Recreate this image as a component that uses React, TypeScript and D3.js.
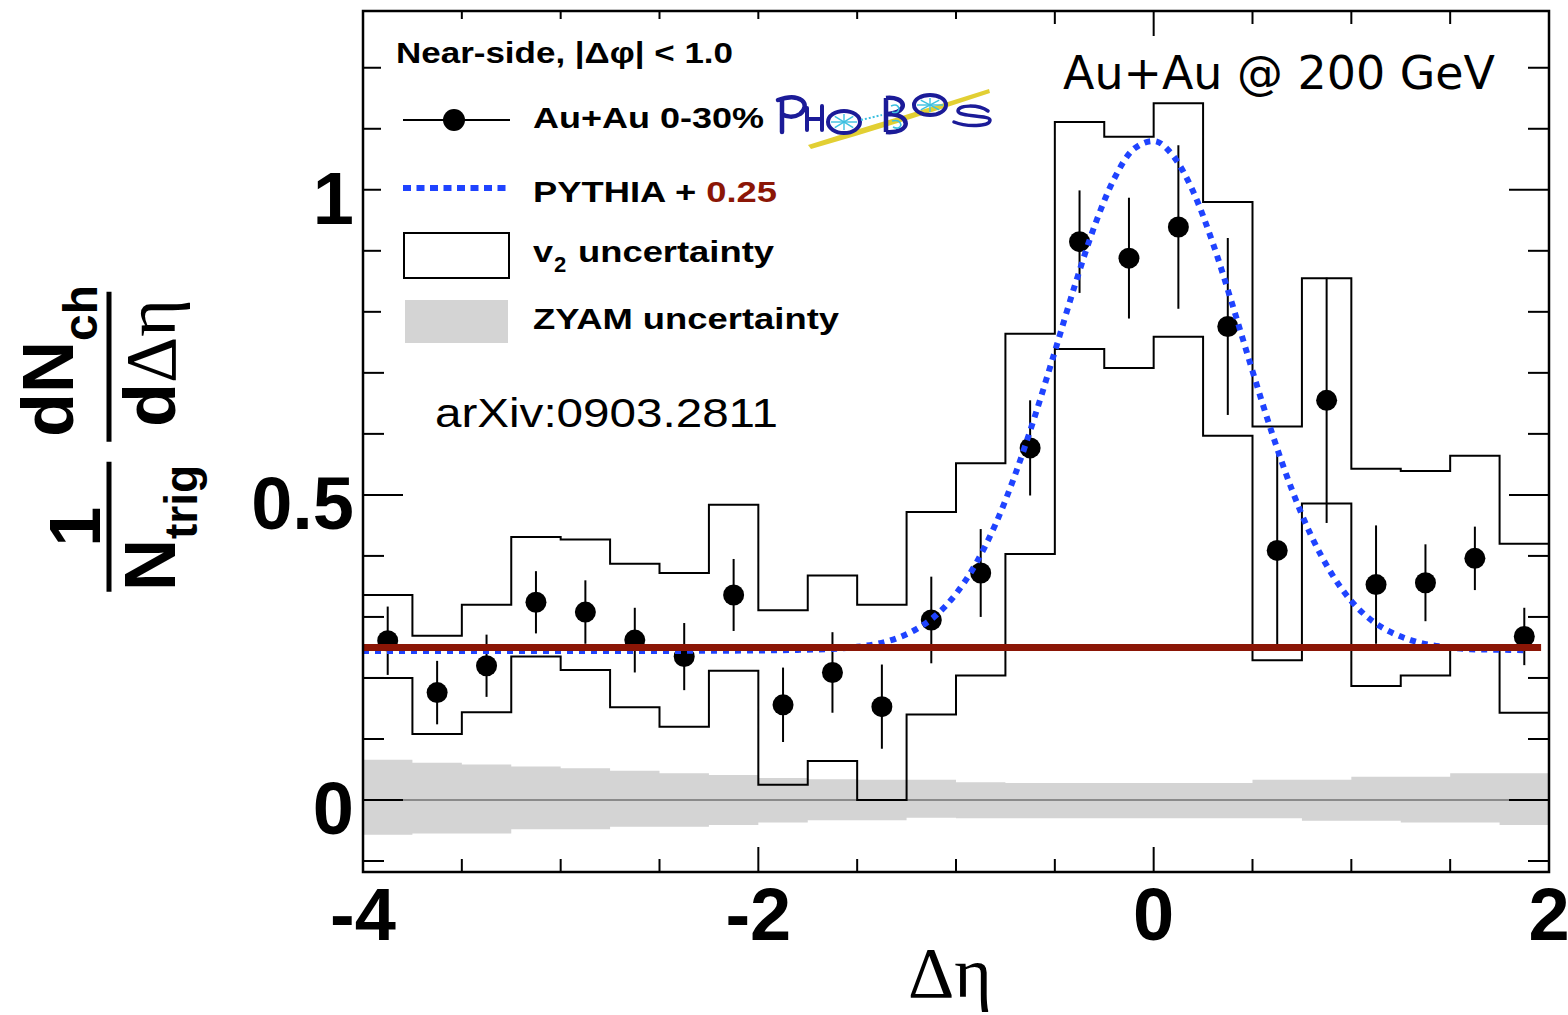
import React from 'react';
import * as d3 from 'd3';

const W = 1568;
const H = 1015;

// Δη bin centres (bin width 0.25)
const etaBinCenters = [
  -3.875, -3.625, -3.375, -3.125, -2.875, -2.625, -2.375, -2.125,
  -1.875, -1.625, -1.375, -1.125, -0.875, -0.625, -0.375, -0.125,
  0.125, 0.375, 0.625, 0.875, 1.125, 1.375, 1.625, 1.875,
];
const binHalfWidth = 0.125;

// Au+Au 0-30% per-trigger yield and statistical errors
const yieldAuAu = [
  0.261, 0.176, 0.220, 0.324, 0.308, 0.262, 0.235, 0.336,
  0.156, 0.209, 0.153, 0.295, 0.372, 0.577, 0.915, 0.888,
  0.939, 0.776, 0.409, 0.655, 0.353, 0.356, 0.396, 0.268,
];
const yieldStatErr = [
  0.056, 0.052, 0.051, 0.051, 0.052, 0.053, 0.055, 0.059,
  0.061, 0.066, 0.069, 0.071, 0.072, 0.078, 0.084, 0.099,
  0.134, 0.145, 0.160, 0.201, 0.097, 0.063, 0.052, 0.047,
];

// v2 systematic band (upper / lower edges)
const v2BandHigh = [
  0.336, 0.269, 0.320, 0.431, 0.427, 0.387, 0.372, 0.484,
  0.311, 0.368, 0.320, 0.472, 0.552, 0.764, 1.111, 1.087,
  1.142, 0.980, 0.612, 0.855, 0.543, 0.539, 0.564, 0.420,
];
const v2BandLow = [
  0.200, 0.108, 0.144, 0.235, 0.213, 0.152, 0.120, 0.212,
  0.025, 0.064, 0.000, 0.140, 0.204, 0.403, 0.739, 0.708,
  0.759, 0.597, 0.229, 0.486, 0.187, 0.204, 0.251, 0.143,
];

// ZYAM systematic band around zero
const zyamHigh = [
  0.066, 0.061, 0.058, 0.055, 0.052, 0.048, 0.044, 0.041,
  0.036, 0.034, 0.033, 0.033, 0.029, 0.028, 0.028, 0.028,
  0.028, 0.028, 0.033, 0.033, 0.038, 0.038, 0.044, 0.044,
];
const zyamLow = [
  -0.057, -0.055, -0.055, -0.048, -0.048, -0.044, -0.044, -0.041,
  -0.037, -0.033, -0.033, -0.029, -0.030, -0.030, -0.030, -0.030,
  -0.030, -0.030, -0.030, -0.034, -0.034, -0.037, -0.037, -0.041,
];

// PYTHIA near-side peak (already shifted by +0.25)
const pythiaEta = [
  -4.0, -3.0, -2.0, -1.8, -1.6, -1.5, -1.4, -1.3, -1.2, -1.1, -1.0,
  -0.9, -0.8, -0.7, -0.6, -0.5, -0.4, -0.3, -0.2, -0.1, 0.0,
  0.1, 0.2, 0.3, 0.4, 0.5, 0.6, 0.7, 0.8, 0.9, 1.0,
  1.1, 1.2, 1.3, 1.4, 1.5, 1.6, 1.8, 1.9,
];
const pythiaYield = [
  0.244, 0.244, 0.245, 0.246, 0.248, 0.251, 0.256, 0.265, 0.280, 0.303, 0.338,
  0.387, 0.452, 0.534, 0.630, 0.735, 0.842, 0.940, 1.018, 1.067, 1.080,
  1.055, 0.997, 0.912, 0.810, 0.703, 0.600, 0.508, 0.431, 0.371, 0.326,
  0.295, 0.275, 0.262, 0.254, 0.250, 0.247, 0.246, 0.245,
];

const pedestal = 0.25;
const pedestalRange = [-4, 1.96];

const xTickLabels = [-4, -2, 0, 2];
const yTickLabels = [0, 0.5, 1];

const SANS = 'Liberation Sans, Arial, Helvetica, sans-serif';
const SERIF = 'Liberation Serif, Times New Roman, serif';
const DARKRED = '#8b1606';
const BLUE = '#1f43ff';
const LOGO_BLUE = '#1b1b98';
const LOGO_CYAN = '#3cc0e0';

const x = d3.scaleLinear().domain([-4, 2]).range([363, 1549]);
const y = d3.scaleLinear().domain([-0.118, 1.293]).range([872, 11]);

function stepPoints(vals: number[]): [number, number][] {
  const pts: [number, number][] = [];
  vals.forEach((v, i) => {
    pts.push([etaBinCenters[i] - binHalfWidth, v]);
    pts.push([etaBinCenters[i] + binHalfWidth, v]);
  });
  return pts;
}

function Wheel({ cx, cy, rx, ry }: { cx: number; cy: number; rx: number; ry: number }) {
  const spokes = [0, 45, 90, 135];
  return (
    <g>
      {spokes.map((a) => {
        const r = (a * Math.PI) / 180;
        return (
          <line
            key={a}
            x1={cx - Math.cos(r) * (rx - 3)}
            x2={cx + Math.cos(r) * (rx - 3)}
            y1={cy - Math.sin(r) * (ry - 3)}
            y2={cy + Math.sin(r) * (ry - 3)}
            stroke={LOGO_CYAN}
            strokeWidth={1.4}
          />
        );
      })}
      <ellipse cx={cx} cy={cy} rx={rx} ry={ry} fill="none" stroke={LOGO_BLUE} strokeWidth={4} />
    </g>
  );
}

export default function App() {
  const stepLine = d3
    .line<[number, number]>()
    .x((d) => x(d[0]))
    .y((d) => y(d[1]));

  const zyamPts = etaBinCenters.flatMap((c, i) => [
    { e: c - binHalfWidth, lo: zyamLow[i], hi: zyamHigh[i] },
    { e: c + binHalfWidth, lo: zyamLow[i], hi: zyamHigh[i] },
  ]);
  const zyamArea = d3
    .area<{ e: number; lo: number; hi: number }>()
    .x((d) => x(d.e))
    .y0((d) => y(d.lo))
    .y1((d) => y(d.hi));

  const pythiaLine = d3
    .line<number>()
    .x((_, i) => x(pythiaEta[i]))
    .y((d) => y(d))
    .curve(d3.curveMonotoneX);

  const xMinor = d3.range(-4, 2.001, 0.5);
  const yMinor = d3.range(-0.1, 1.2501, 0.1).map((v) => Math.round(v * 10) / 10);
  const isMajorX = (v: number) => Math.abs(v / 2 - Math.round(v / 2)) < 1e-6;
  const isMajorY = (v: number) => Math.abs(v * 2 - Math.round(v * 2)) < 1e-6;

  const x0 = x(-4);
  const x1 = x(2);
  const yTop = y(1.293);
  const yBot = y(-0.118);

  return (
    <div style={{ position: 'absolute', left: 0, top: 0 }}>
      <svg width={W} height={H} viewBox={`0 0 ${W} ${H}`} style={{ display: 'block', background: '#fff' }}>
        {/* ZYAM band */}
        <path d={zyamArea(zyamPts) || ''} fill="#d4d4d4" stroke="none" />
        <line x1={x0} x2={x1} y1={y(0)} y2={y(0)} stroke="#8a8a8a" strokeWidth={2} />

        {/* v2 uncertainty band edges */}
        <path d={stepLine(stepPoints(v2BandHigh)) || ''} fill="none" stroke="#000" strokeWidth={2} />
        <path d={stepLine(stepPoints(v2BandLow)) || ''} fill="none" stroke="#000" strokeWidth={2} />

        {/* data points */}
        {yieldAuAu.map((v, i) => (
          <g key={i}>
            <line
              x1={x(etaBinCenters[i])}
              x2={x(etaBinCenters[i])}
              y1={y(v - yieldStatErr[i])}
              y2={y(v + yieldStatErr[i])}
              stroke="#000"
              strokeWidth={2}
            />
            <circle cx={x(etaBinCenters[i])} cy={y(v)} r={10.5} fill="#000" />
          </g>
        ))}

        {/* PYTHIA + 0.25 */}
        <path
          d={pythiaLine(pythiaYield) || ''}
          fill="none"
          stroke={BLUE}
          strokeWidth={6}
          strokeDasharray="6 6"
        />

        {/* pedestal line */}
        <line
          x1={x(pedestalRange[0])}
          x2={x(pedestalRange[1])}
          y1={y(pedestal)}
          y2={y(pedestal)}
          stroke={DARKRED}
          strokeWidth={7}
        />

        {/* ticks */}
        {xMinor.map((v) => {
          const len = isMajorX(v) ? 25 : 13;
          return (
            <g key={'xt' + v}>
              <line x1={x(v)} x2={x(v)} y1={yBot} y2={yBot - len} stroke="#000" strokeWidth={2} />
              <line x1={x(v)} x2={x(v)} y1={yTop} y2={yTop + len} stroke="#000" strokeWidth={2} />
            </g>
          );
        })}
        {yMinor.map((v) => {
          const len = isMajorY(v) ? 40 : 21;
          return (
            <g key={'yt' + v}>
              <line x1={x0} x2={x0 + len} y1={y(v)} y2={y(v)} stroke="#000" strokeWidth={2} />
              <line x1={x1} x2={x1 - len} y1={y(v)} y2={y(v)} stroke="#000" strokeWidth={2} />
            </g>
          );
        })}

        {/* frame */}
        <rect x={x0} y={yTop} width={x1 - x0} height={yBot - yTop} fill="none" stroke="#000" strokeWidth={2.5} />

        {/* legend */}
        <rect x={381} y={19} width={618} height={336} fill="#fff" />
        <text x={396} y={63} fontFamily={SANS} fontWeight="bold" fontSize={30} textLength={337} lengthAdjust="spacingAndGlyphs">
          Near-side, |Δφ| &lt; 1.0
        </text>

        <line x1={403} x2={510} y1={120} y2={120} stroke="#000" strokeWidth={2} />
        <circle cx={454} cy={120} r={11} fill="#000" />
        <text x={533} y={128} fontFamily={SANS} fontWeight="bold" fontSize={30} textLength={231} lengthAdjust="spacingAndGlyphs">
          Au+Au 0-30%
        </text>

        {/* PHOBOS logo */}
        <g>
          <path d="M808,145 C870,125 930,108 989,89 L990,93 C930,113 870,132 811,149 Z" fill="#e2cf33" />
          <path d="M782,100 L782,132 M778,100 C800,92 812,104 800,114 C794,118 786,117 782,114" fill="none" stroke={LOGO_BLUE} strokeWidth={4.5} strokeLinecap="round" />
          <path d="M807,108 L807,130 M822,106 L822,130 M807,119 L822,119" fill="none" stroke={LOGO_BLUE} strokeWidth={4} strokeLinecap="round" />
          <Wheel cx={844} cy={122} rx={16} ry={11} />
          <line x1={861} x2={882} y1={120} y2={115} stroke={LOGO_CYAN} strokeWidth={2} strokeDasharray="2 2" />
          <path d="M886,98 L886,132 M886,98 C906,96 910,112 888,114 C912,114 912,134 886,132" fill="none" stroke={LOGO_BLUE} strokeWidth={4.5} strokeLinejoin="round" />
          <path d="M891,106 q7,-3 8,3 q-1,5 -7,3 M892,121 q8,-2 9,4 q-2,5 -8,2" fill="none" stroke={LOGO_CYAN} strokeWidth={1.6} />
          <Wheel cx={930} cy={105} rx={16} ry={10} />
          <path d="M988,111 C978,104 958,105 958,111 C958,117 990,115 990,120 C990,127 966,127 954,122" fill="none" stroke={LOGO_BLUE} strokeWidth={3.5} strokeLinecap="round" />
        </g>

        <line x1={403} x2={508} y1={188} y2={188} stroke={BLUE} strokeWidth={6} strokeDasharray="8 5.5" />
        <text x={533} y={202} fontFamily={SANS} fontWeight="bold" fontSize={30} textLength={244} lengthAdjust="spacingAndGlyphs">
          PYTHIA + <tspan fill={DARKRED}>0.25</tspan>
        </text>

        <rect x={404} y={233} width={105} height={45} fill="#fff" stroke="#000" strokeWidth={2} />
        <text x={533} y={262} fontFamily={SANS} fontWeight="bold" fontSize={30} textLength={20} lengthAdjust="spacingAndGlyphs">v</text>
        <text x={554} y={272} fontFamily={SANS} fontWeight="bold" fontSize={22}>2</text>
        <text x={578} y={262} fontFamily={SANS} fontWeight="bold" fontSize={30} textLength={196} lengthAdjust="spacingAndGlyphs">
          uncertainty
        </text>

        <rect x={405} y={300} width={103} height={43} fill="#d4d4d4" />
        <text x={533} y={329} fontFamily={SANS} fontWeight="bold" fontSize={30} textLength={306} lengthAdjust="spacingAndGlyphs">
          ZYAM uncertainty
        </text>

        {/* annotations */}
        <text x={435} y={427} fontFamily={SANS} fontSize={40} textLength={343} lengthAdjust="spacingAndGlyphs">
          arXiv:0903.2811
        </text>
        <text x={1063} y={89} fontFamily="DejaVu Sans, sans-serif" fontSize={46} textLength={432} lengthAdjust="spacingAndGlyphs">
          Au+Au @ 200 GeV
        </text>

        {/* tick labels */}
        {yTickLabels.map((v) => (
          <text key={'yl' + v} x={354} y={y(v) + 34} textAnchor="end" fontFamily={SANS} fontWeight="bold" fontSize={74}>
            {String(v)}
          </text>
        ))}
        {xTickLabels.map((v) => (
          <text key={'xl' + v} x={x(v)} y={940} textAnchor="middle" fontFamily={SANS} fontWeight="bold" fontSize={74}>
            {String(v)}
          </text>
        ))}

        {/* axis titles */}
        <text x={908} y={997} fontFamily={SERIF} fontSize={72}>Δη</text>

        <g transform="translate(109,0) rotate(-90)">
          <line x1={-591.7} x2={-461.7} y1={0} y2={0} stroke="#000" strokeWidth={5} />
          <text x={-526.7} y={-9} textAnchor="middle" fontFamily={SANS} fontWeight="bold" fontSize={72}>1</text>
          <text x={-591} y={66} fontFamily={SANS} fontWeight="bold" fontSize={72}>
            N<tspan fontSize={46} dy={22}>trig</tspan>
          </text>

          <line x1={-441.7} x2={-291.7} y1={0} y2={0} stroke="#000" strokeWidth={5} />
          <text x={-437} y={-36} fontFamily={SANS} fontWeight="bold" fontSize={72}>
            dN<tspan fontSize={48} dy={24}>ch</tspan>
          </text>
          <text x={-427} y={66} fontFamily={SANS} fontWeight="bold" fontSize={72}>
            d<tspan fontFamily={SERIF} fontWeight="normal">Δη</tspan>
          </text>
        </g>
      </svg>
    </div>
  );
}
